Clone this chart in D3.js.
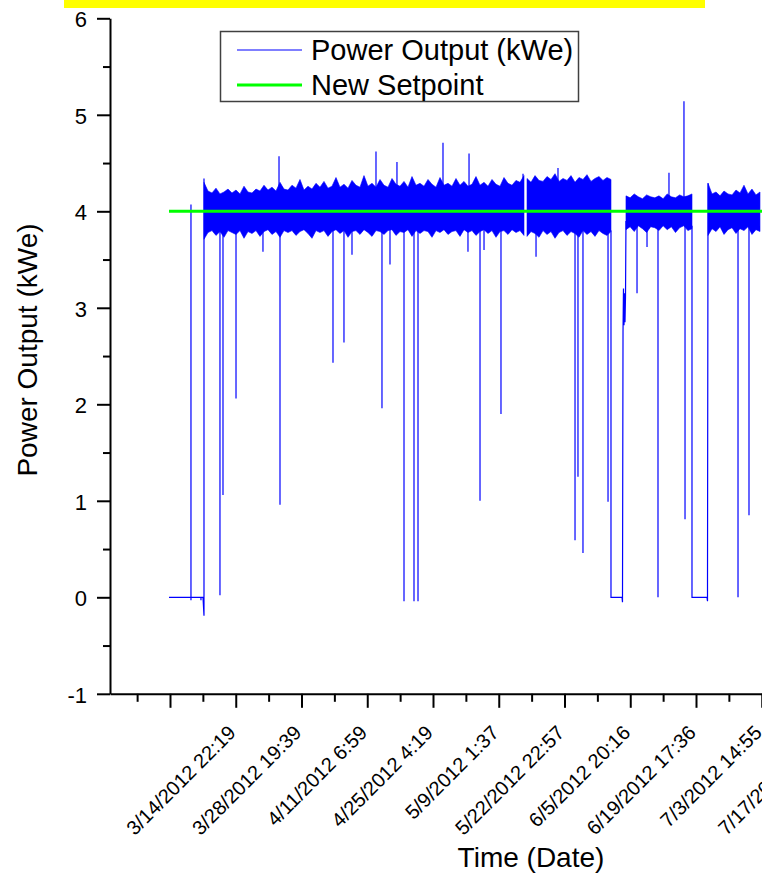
<!DOCTYPE html>
<html><head><meta charset="utf-8">
<script src="https://cdn.jsdelivr.net/npm/d3@7"></script>
<style>
html,body{margin:0;padding:0;background:#fff;}
svg{display:block;font-family:"Liberation Sans",Arial,Helvetica,sans-serif;}
</style></head><body>
<svg id="chart" width="762" height="875"></svg>
<script>
// ---------- DATA (x in tick-interval units, y in kWe) ----------
const xTickLabels = ["3/14/2012 22:19","3/28/2012 19:39","4/11/2012 6:59","4/25/2012 4:19","5/9/2012 1:37",
  "5/22/2012 22:57","6/5/2012 20:16","6/19/2012 17:36","7/3/2012 14:55","7/17/2012 12:15"];
const xMajorTicks = [0,1,2,3,4,5,6,7,8,9,10];
const xMinorTicks = [-0.5,0.5,1.5,2.5,3.5,4.5,5.5,6.5,7.5,8.5,9.5];
const yMajorTicks = [-1,0,1,2,3,4,5,6];
const yMinorTicks = [-0.5,0.5,1.5,2.5,3.5,4.5,5.5];

const seriesNames = ["Power Output (kWe)","New Setpoint"];
const setpointValue = 4.0;
const setpointStart = -0.015;
const setpointEnd = 10;

// Dense operating bands: upper / lower envelopes, evenly sampled between start and end
const band1Start = 0.517, band1End = 5.384;
const band1Hi = [4.30,4.21,4.19,4.24,4.18,4.20,4.23,4.19,4.22,4.18,4.26,4.20,4.19,4.23,4.21,
  4.27,4.22,4.25,4.21,4.30,4.23,4.22,4.27,4.24,4.33,4.22,4.26,4.23,4.29,
  4.25,4.31,4.24,4.26,4.35,4.25,4.28,4.24,4.32,4.27,4.25,4.37,4.26,4.29,4.25,4.33,
  4.27,4.25,4.34,4.28,4.26,4.31,4.25,4.36,4.27,4.29,4.26,4.33,4.28,4.25,4.35,4.27,
  4.29,4.26,4.34,4.27,4.31,4.26,4.28,4.36,4.27,4.30,4.26,4.33,4.28,4.26,4.35,4.29,4.27,4.32,4.30,4.37];
const band1Lo = [3.71,3.78,3.80,3.75,3.79,3.73,3.80,3.78,3.76,3.80,3.72,3.79,3.77,3.80,3.74,
  3.79,3.81,3.76,3.79,3.73,3.80,3.78,3.80,3.75,3.79,3.81,3.77,3.72,3.80,
  3.78,3.80,3.74,3.79,3.81,3.77,3.80,3.73,3.79,3.80,3.76,3.81,3.78,3.74,3.80,3.79,
  3.76,3.80,3.81,3.75,3.79,3.78,3.81,3.74,3.80,3.77,3.80,3.79,3.73,3.80,3.78,3.81,
  3.76,3.79,3.80,3.74,3.81,3.78,3.80,3.75,3.79,3.81,3.77,3.80,3.73,3.79,3.80,3.76,3.81,3.78,3.80,3.75];

const band2Start = 5.430, band2End = 6.707;
const band2Hi = [4.34,4.30,4.37,4.32,4.31,4.36,4.33,4.39,4.31,4.34,4.32,4.37,4.30,4.35,4.33,4.38,4.31,4.34,4.36,4.32,4.35,4.33];
const band2Lo = [3.74,3.79,3.77,3.73,3.80,3.76,3.79,3.72,3.78,3.80,3.75,3.79,3.77,3.73,3.80,3.76,3.79,3.74,3.80,3.77,3.75,3.79];

const band3Start = 6.935, band3End = 7.939;
const band3Hi = [4.16,4.14,4.18,4.15,4.13,4.17,4.15,4.14,4.16,4.13,4.18,4.15,4.14,4.17,4.15,4.16,4.18];
const band3Lo = [3.81,3.84,3.79,3.85,3.82,3.78,3.84,3.83,3.80,3.85,3.81,3.84,3.78,3.83,3.85,3.80,3.82];

const band4Start = 8.183, band4End = 8.973;
const band4Hi = [4.29,4.18,4.20,4.16,4.21,4.18,4.17,4.22,4.19,4.27,4.18,4.23,4.17,4.20];
const band4Lo = [3.75,3.82,3.79,3.84,3.76,3.81,3.83,3.77,3.82,3.80,3.84,3.76,3.81,3.79];

// Isolated excursions above the band
const spikeUpX = [0.517,1.658,3.133,3.452,4.152,4.548,5.369,5.901,7.589,7.817];
const spikeUpV = [4.34,4.57,4.62,4.51,4.71,4.60,4.39,4.45,4.40,5.14];
// Isolated drops below the band
const spikeDownX = [0.760,0.806,1.004,1.414,1.673,2.479,2.646,2.768,3.224,3.346,3.559,3.711,3.772,
  4.532,4.715,4.776,5.034,5.567,6.160,6.205,6.281,6.662,7.103,7.255,7.422,7.833,8.639,8.806];
const spikeDownV = [0.02,1.06,2.06,3.58,0.96,2.43,2.64,3.55,1.96,3.45,-0.04,-0.04,-0.04,
  3.58,1.00,3.60,1.90,3.53,0.59,1.25,0.46,0.99,3.15,3.63,0.00,0.81,0.00,0.85];
const spikeBase = 4.0;

// Shutdown / restart stretches of the trace
const traceAX = [-0.015,0.319,0.319,0.319,0.319,0.471,0.471,0.471,0.502,0.517,0.517];
const traceAV = [0,0,4.07,-0.03,0,0,-0.03,0,0,-0.19,4.0];
const traceBX = [6.707,6.707,6.875,6.882,6.890,6.897,6.905,6.913,6.920,6.928,6.935];
const traceBV = [3.8,0,0,-0.05,2.75,3.2,2.82,3.15,2.85,3.12,3.9];
const traceCX = [7.939,7.939,8.167,8.175,8.175,8.183];
const traceCV = [3.85,0,0,-0.04,0.2,4.29];

// ---------- CHART ----------
const svg = d3.select("#chart");
const blue = "#0000ff", green = "#00ff00";

svg.append("rect").attr("x",64).attr("y",0).attr("width",641).attr("height",8).attr("fill","#ffff00");

const x = d3.scaleLinear().domain([-0.9125, 10]).range([110, 827.5]);
const y = d3.scaleLinear().domain([-1, 6]).range([693.8, 18.3]);

const plot = svg.append("g");

function bandPts(start, end, hi, lo){
  const n = hi.length;
  return hi.map((h,i)=>({t: start + (end-start)*i/(n-1), hi: h, lo: lo[i]}));
}
const bands = [
  bandPts(band1Start, band1End, band1Hi, band1Lo),
  bandPts(band2Start, band2End, band2Hi, band2Lo),
  bandPts(band3Start, band3End, band3Hi, band3Lo),
  bandPts(band4Start, band4End, band4Hi, band4Lo)
];
const area = d3.area().x(d=>x(d.t)).y0(d=>y(d.lo)).y1(d=>y(d.hi));
plot.selectAll("path.band").data(bands).join("path").attr("class","band")
  .attr("d", area).attr("fill", blue).attr("stroke", blue).attr("stroke-width", 0.6);

const line = d3.line().x(d=>x(d[0])).y(d=>y(d[1]));
const traces = [
  traceAX.map((t,i)=>[t, traceAV[i]]),
  traceBX.map((t,i)=>[t, traceBV[i]]),
  traceCX.map((t,i)=>[t, traceCV[i]])
];
plot.selectAll("path.trace").data(traces).join("path").attr("class","trace")
  .attr("d", line).attr("fill","none").attr("stroke", blue).attr("stroke-width", 1.2);

const spikes = spikeUpX.map((t,i)=>[t, spikeUpV[i]]).concat(spikeDownX.map((t,i)=>[t, spikeDownV[i]]));
plot.selectAll("line.spike").data(spikes).join("line").attr("class","spike")
  .attr("x1", d=>x(d[0])).attr("x2", d=>x(d[0]))
  .attr("y1", y(spikeBase)).attr("y2", d=>y(d[1]))
  .attr("stroke", blue).attr("stroke-width", 1.2);

plot.append("line")
  .attr("x1", x(setpointStart)).attr("x2", x(setpointEnd))
  .attr("y1", y(setpointValue)).attr("y2", y(setpointValue))
  .attr("stroke", green).attr("stroke-width", 3);

// Axes
const axisStyle = g => {
  g.selectAll("path.domain").attr("stroke","#000").attr("stroke-width",2);
  g.selectAll(".tick line").attr("stroke","#000").attr("stroke-width",2);
};
const yAxisG = svg.append("g").attr("transform", `translate(${x.range()[0]},0)`);
yAxisG.call(d3.axisLeft(y).tickValues(yMajorTicks).tickSize(13).tickSizeOuter(0).tickPadding(10).tickFormat(d=>String(d)))
  .call(axisStyle);
yAxisG.selectAll(".tick text").attr("font-size", 22).attr("fill","#000")
  .attr("font-family",'"Liberation Sans",Arial,sans-serif').attr("dy","0.38em");
svg.append("g").attr("transform", `translate(${x.range()[0]},0)`)
  .call(d3.axisLeft(y).tickValues(yMinorTicks).tickSize(7).tickFormat(""))
  .call(g=>g.select(".domain").remove()).call(axisStyle);

const xAxisG = svg.append("g").attr("transform", `translate(0,${y.range()[0]})`);
xAxisG.call(d3.axisBottom(x).tickValues(xMajorTicks).tickSize(14).tickSizeOuter(0).tickFormat(""))
  .call(axisStyle);
svg.append("g").attr("transform", `translate(0,${y.range()[0]})`)
  .call(d3.axisBottom(x).tickValues(xMinorTicks).tickSize(8).tickFormat(""))
  .call(g=>g.select(".domain").remove()).call(axisStyle);

svg.append("g").selectAll("text").data(xTickLabels).join("text")
  .attr("transform", (d,i)=>`translate(${x(xMajorTicks[i]) + 67},734) rotate(-45)`)
  .attr("text-anchor","end").attr("font-size",20).attr("fill","#000").text(d=>d);

svg.append("text").attr("transform","translate(37,350) rotate(-90)")
  .attr("text-anchor","middle").attr("font-size",28).attr("fill","#000").text("Power Output (kWe)");
svg.append("text").attr("x",531).attr("y",867)
  .attr("text-anchor","middle").attr("font-size",28).attr("fill","#000").text("Time (Date)");

// Legend
const lg = svg.append("g");
lg.append("rect").attr("x",220.5).attr("y",31.5).attr("width",358).attr("height",70)
  .attr("fill","#fff").attr("stroke","#404040").attr("stroke-width",1.5);
const legendItems = [{name: seriesNames[0], color: blue, w: 1.2}, {name: seriesNames[1], color: green, w: 3}];
legendItems.forEach((it,i)=>{
  const cy = 50 + i*35;
  lg.append("line").attr("x1",237).attr("x2",302).attr("y1",cy).attr("y2",cy)
    .attr("stroke", it.color).attr("stroke-width", it.w);
  lg.append("text").attr("x",311).attr("y",cy+10).attr("font-size",29).attr("fill","#000").text(it.name);
});
</script>
</body></html>
